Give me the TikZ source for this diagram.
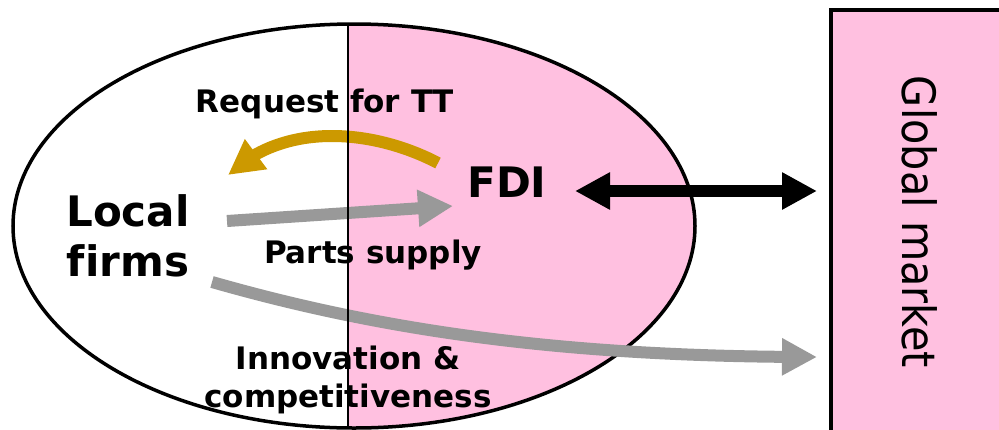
\documentclass[tikz,border=0pt]{standalone}
\usepackage{fontspec}
\setmainfont{DejaVu Sans}[Ligatures=NoCommon]
\newfontfamily\marketfont[FakeStretch=0.9]{DejaVu Sans}
\usetikzlibrary{arrows.meta,bending}
\definecolor{fdipink}{RGB}{255,192,224}
\definecolor{ttgold}{RGB}{204,153,0}
\definecolor{flowgray}{RGB}{153,153,153}

\begin{document}
\begin{tikzpicture}[x=1pt, y=-1pt,
    tag/.style={font=\bfseries\fontsize{31}{38}\selectfont, inner sep=0pt},
    actor/.style={font=\bfseries\fontsize{42}{50}\selectfont, inner sep=0pt, align=center},
    flow/.style={line width=12pt, -{Triangle[length=35pt, width=35pt]}},
    twoway/.style={line width=12pt, {Triangle[length=35pt, width=35pt]}-{Triangle[length=35pt, width=35pt]}}
]
\useasboundingbox (0,0) rectangle (999,429);
\clip (0,0) rectangle (999,429);

% global market box, runs off the page
\node[draw, line width=4pt, fill=fdipink, rotate=-90, minimum width=425pt, minimum height=178pt, inner sep=0pt,
      font=\marketfont\fontsize{46}{50}\selectfont] (market) at (920,222) {Global market};

% ellipse, right half pink
\begin{scope}
  \clip (354,226) ellipse [x radius=341, y radius=202];
  \fill[fdipink] (348,0) rectangle (700,430);
\end{scope}
\draw[line width=3.5pt] (354,226) ellipse [x radius=341, y radius=202];

\node[actor] (local) at (128,236) {Local\\firms};
\node[actor] (fdi) at (507,182) {FDI};

\draw[flow, ttgold] ([shift={(-69,-19)}]fdi.center) .. controls (375,130) and (285,120) .. ([shift={(100,-61)}]local.center);
\draw[flow, flowgray] ([shift={(99,-15)}]local.center) -- ([shift={(-54,24)}]fdi.center);
\draw[flow, flowgray] ([shift={(84,46)}]local.center) .. controls (380,330) and (560,357) .. ([shift={(-103,135)}]market.center);
\draw[twoway] ([shift={(68,9)}]fdi.center) -- ([shift={(-103,-31)}]market.center);

% split line
\begin{scope}
  \clip (354,226) ellipse [x radius=341, y radius=202];
  \draw[line width=2.5pt] (348,0) -- (348,430);
\end{scope}

\node[tag, anchor=base] (request) at (325,112) {Request for TT};
\node[tag, anchor=base] (parts) at (373,263) {Parts supply};
\node[tag, anchor=base, align=center] (innov) at (348,407) {Innovation \&\\competitiveness};
\end{tikzpicture}
\end{document}
